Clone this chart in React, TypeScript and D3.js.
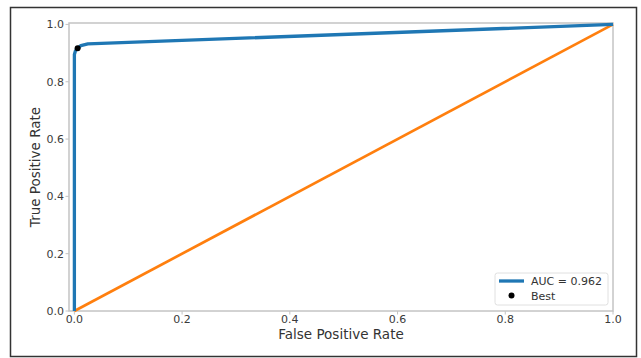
import { useEffect, useRef } from "react";
import * as d3 from "d3";

// ROC curve points
const fpr = [0, 0, 0.002, 0.006, 0.012, 0.025, 1];
const tpr = [0, 0.895, 0.908, 0.917, 0.926, 0.932, 1];
const bestPoint = [0.006, 0.917];
const tickValues = [0, 0.2, 0.4, 0.6, 0.8, 1.0];
const legendLabels = ["AUC = 0.962", "Best"];

const W = 641, H = 358;

const App = () => {
  const svgRef = useRef<SVGSVGElement>(null);

  useEffect(() => {
    if (!svgRef.current) return;
    const svg = d3.select(svgRef.current);
    svg.selectAll("*").remove();

    const m = { left: 69, right: 613, top: 23, bottom: 311 };
    const x = d3.scaleLinear().domain([-0.01, 1.0]).range([m.left, m.right]);
    const y = d3.scaleLinear().domain([0, 1.005]).range([m.bottom, m.top]);
    const font = "DejaVu Sans, sans-serif";

    // outer frame
    svg.append("rect")
      .attr("x", 10.5).attr("y", 7.5)
      .attr("width", 626).attr("height", 349)
      .attr("fill", "white")
      .attr("stroke", "#333")
      .attr("stroke-width", 1.5);

    // spines
    svg.append("rect")
      .attr("x", m.left).attr("y", m.top)
      .attr("width", m.right - m.left).attr("height", m.bottom - m.top)
      .attr("fill", "none")
      .attr("stroke", "#c4c4c4")
      .attr("stroke-width", 1.5);

    // x ticks
    const xt = svg.append("g");
    tickValues.forEach((t) => {
      xt.append("line")
        .attr("x1", x(t)).attr("x2", x(t))
        .attr("y1", m.bottom).attr("y2", m.bottom + 3.5)
        .attr("stroke", "#c4c4c4");
      xt.append("text")
        .attr("x", x(t)).attr("y", m.bottom + 11.5)
        .attr("text-anchor", "middle")
        .attr("font-family", font).attr("font-size", 11)
        .attr("fill", "#3a3a3a")
        .text(t.toFixed(1));
    });

    // y ticks
    const yt = svg.append("g");
    tickValues.forEach((t) => {
      yt.append("line")
        .attr("x1", m.left - 3.5).attr("x2", m.left)
        .attr("y1", y(t)).attr("y2", y(t))
        .attr("stroke", "#c4c4c4");
      yt.append("text")
        .attr("x", m.left - 5).attr("y", y(t) + 4)
        .attr("text-anchor", "end")
        .attr("font-family", font).attr("font-size", 11)
        .attr("fill", "#3a3a3a")
        .text(t.toFixed(1));
    });

    // axis labels
    svg.append("text")
      .attr("x", (m.left + m.right) / 2).attr("y", 338.5)
      .attr("text-anchor", "middle")
      .attr("font-family", font).attr("font-size", 13.5)
      .attr("fill", "#333")
      .text("False Positive Rate");

    svg.append("text")
      .attr("transform", `translate(40,${(m.top + m.bottom) / 2}) rotate(-90)`)
      .attr("text-anchor", "middle")
      .attr("font-family", font).attr("font-size", 13.5)
      .attr("fill", "#333")
      .text("True Positive Rate");

    // diagonal
    const line = d3.line<[number, number]>()
      .x((d) => x(d[0]))
      .y((d) => y(d[1]));

    svg.append("path")
      .datum([[0, 0], [1, 1]] as [number, number][])
      .attr("d", line)
      .attr("fill", "none")
      .attr("stroke", "#ff7f0e")
      .attr("stroke-width", 2.7);

    // ROC curve
    const roc = fpr.map((f, i) => [f, tpr[i]] as [number, number]);
    svg.append("path")
      .datum(roc)
      .attr("d", line)
      .attr("fill", "none")
      .attr("stroke", "#1f77b4")
      .attr("stroke-width", 3.3)
      .attr("stroke-linejoin", "round");

    // best point
    svg.append("circle")
      .attr("cx", x(bestPoint[0])).attr("cy", y(bestPoint[1]))
      .attr("r", 3)
      .attr("fill", "black");

    // legend
    const lg = svg.append("g").attr("transform", "translate(495,273)");
    lg.append("rect")
      .attr("width", 113).attr("height", 32)
      .attr("rx", 2.5)
      .attr("fill", "white").attr("fill-opacity", 0.8)
      .attr("stroke", "#e0e0e0");
    lg.append("line")
      .attr("x1", 4).attr("x2", 29)
      .attr("y1", 8).attr("y2", 8)
      .attr("stroke", "#1f77b4").attr("stroke-width", 3.3);
    lg.append("circle")
      .attr("cx", 16.5).attr("cy", 22.5).attr("r", 3)
      .attr("fill", "black");
    legendLabels.forEach((l, i) => {
      lg.append("text")
        .attr("x", 36).attr("y", 12 + i * 14.5)
        .attr("font-family", font).attr("font-size", 11)
        .attr("fill", "#333")
        .text(l);
    });
  }, []);

  return (
    <svg
      ref={svgRef}
      width={W}
      height={H}
      style={{ position: "absolute", left: 0, top: 0 }}
    />
  );
};

export default App;
